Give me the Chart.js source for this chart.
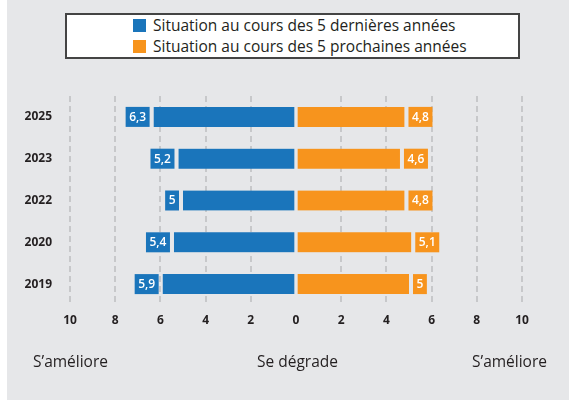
<!DOCTYPE html>
<html>
<head>
<meta charset="utf-8">
<script src="https://cdn.jsdelivr.net/npm/chart.js@4.4.1/dist/chart.umd.min.js"></script>
<style>
  html, body { margin: 0; padding: 0; background: #fff; }
  #wrap { position: relative; width: 569px; height: 402px; font-family: "Open Sans", sans-serif; color: #231f20; }
  #chart { position: absolute; left: 0; top: 0; }
  .legend { position: absolute; left: 65px; top: 13px; width: 451px; height: 42px; background: #fff; border: 2px solid #444; }
  .legend .item { position: absolute; left: 66px; font-size: 15.5px; line-height: 20px; white-space: nowrap; }
  .legend .sw { display: inline-block; width: 13px; height: 13px; margin-right: 7px; vertical-align: -1px; }
  .side { position: absolute; top: 351px; font-size: 15.5px; line-height: 20px; white-space: nowrap; }
</style>
</head>
<body>
<div id="wrap">
  <canvas id="chart" width="569" height="402"></canvas>
  <div class="legend">
    <div class="item" style="top:0px"><span class="sw" style="background:#1a75bb"></span>Situation au cours des 5 dernières années</div>
    <div class="item" style="top:21px"><span class="sw" style="background:#f7941d"></span>Situation au cours des 5 prochaines années</div>
  </div>
  <div class="side" style="left:33px">S’améliore</div>
  <div class="side" style="left:257px">Se dégrade</div>
  <div class="side" style="left:472px">S’améliore</div>
</div>
<script>
const years = ["2025", "2023", "2022", "2020", "2019"];
const past = [6.3, 5.2, 5, 5.4, 5.9];
const next = [4.8, 4.6, 4.8, 5.1, 5];
const xTicks = [-10, -8, -6, -4, -2, 0, 2, 4, 6, 8, 10];

const blue = "#1a75bb";
const orange = "#f7941d";
const bg = "#e6e7e9";

const fmt = (v) => String(Math.abs(v)).replace(".", ",");

const panelBg = {
    id: "panelBg",
    beforeDraw: function (chart) {
        const ctx = chart.ctx;
        ctx.save();
        ctx.fillStyle = bg;
        ctx.fillRect(7, 0, 562, 400);
        ctx.restore();
    },
};

// value boxes just outside the end of each bar
const valueBoxes = {
    id: "valueBoxes",
    afterDatasetsDraw: function (chart) {
        const ctx = chart.ctx;
        ctx.save();
        ctx.font = "600 12px 'Open Sans'";
        ctx.textBaseline = "middle";
        ctx.textAlign = "center";
        chart.data.datasets.forEach(function (ds, di) {
            const meta = chart.getDatasetMeta(di);
            meta.data.forEach(function (bar, i) {
                const v = ds.data[i];
                const txt = fmt(v);
                const w = ctx.measureText(txt).width + 7;
                const h = bar.height;
                const left = v < 0;
                const x0 = left ? bar.x - 4 - w : bar.x + 4;
                ctx.fillStyle = ds.backgroundColor;
                ctx.fillRect(x0, bar.y - h / 2, w, h);
                ctx.fillStyle = "#fff";
                ctx.fillText(txt, x0 + w / 2, bar.y + 0.5);
            });
        });
        ctx.restore();
    },
};

new Chart(document.getElementById("chart"), {
    type: "bar",
    data: {
        labels: years,
        datasets: [
            {
                label: "Situation au cours des 5 dernières années",
                data: past.map((v) => -v),
                backgroundColor: blue,
                borderColor: bg,
                borderWidth: { right: 1, left: 0, top: 0, bottom: 0 },
                borderSkipped: false,
                barThickness: 20,
            },
            {
                label: "Situation au cours des 5 prochaines années",
                data: next,
                backgroundColor: orange,
                borderColor: bg,
                borderWidth: { left: 1, right: 0, top: 0, bottom: 0 },
                borderSkipped: false,
                barThickness: 20,
            },
        ],
    },
    options: {
        indexAxis: "y",
        responsive: false,
        animation: false,
        layout: { padding: { top: 96, left: 0, right: 47, bottom: 67 } },
        plugins: {
            legend: { display: false },
            tooltip: { enabled: false },
        },
        scales: {
            x: {
                stacked: true,
                min: -10,
                max: 10,
                afterBuildTicks: function (s) {
                    s.ticks = xTicks.map((v) => ({ value: v }));
                },
                afterFit: function (s) {
                    s.height = 30;
                },
                border: { display: false, dash: [6, 4] },
                grid: {
                    drawTicks: false,
                    lineWidth: 2,
                    color: (c) => (c.tick && c.tick.value === 0 ? "transparent" : "#c7c8ca"),
                },
                ticks: {
                    padding: 8,
                    color: "#231f20",
                    font: { family: "Open Sans", size: 12, weight: "bold" },
                    callback: (v) => Math.abs(v),
                },
            },
            y: {
                stacked: true,
                afterFit: function (s) {
                    s.width = 70;
                },
                border: { display: false },
                grid: { display: false },
                ticks: {
                    padding: 10,
                    color: "#231f20",
                    font: { family: "Open Sans", size: 12, weight: "bold" },
                },
            },
        },
    },
    plugins: [panelBg, valueBoxes],
});
</script>
</body>
</html>
